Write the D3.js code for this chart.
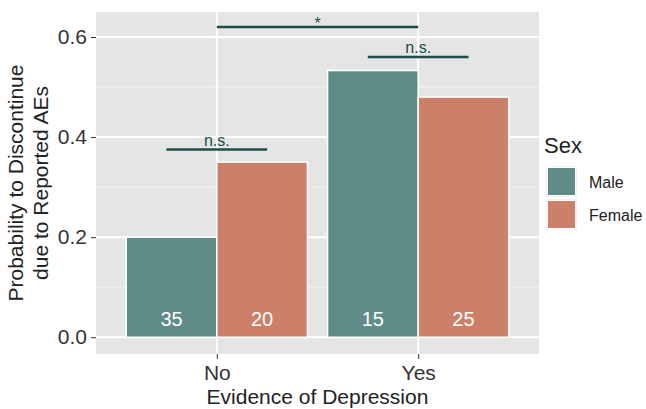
<!DOCTYPE html>
<html><head><meta charset="utf-8">
<script src="https://cdn.jsdelivr.net/npm/d3@7"></script>
<style>body{margin:0;background:#fff;} text{font-family:"Liberation Sans",Arial,sans-serif;}</style>
</head><body>
<svg id="c" width="646" height="409"></svg>
<script>
const categories = ["No", "Yes"];
const sexes = ["Male", "Female"];
const maleValues = [0.20, 0.533];
const femaleValues = [0.35, 0.48];
const maleCounts = [35, 15];
const femaleCounts = [20, 25];
const yTicks = [0.0, 0.2, 0.4, 0.6];
const sigLabels = ["n.s.", "n.s.", "*"];
const sigHeights = [0.375, 0.56, 0.62];

const colors = {Male: "#5f8c87", Female: "#cc7f69"};
const svg = d3.select("#c");
const L = 96, R = 539, T = 12, B = 354;
const FONT = "Liberation Sans, Arial, sans-serif";

const y = d3.scaleLinear().domain([-0.0335, 0.65]).range([B, T]);
const xc = d3.scaleLinear().domain([0.4, 2.6]).range([L, R]);

svg.append("rect").attr("x", L).attr("y", T).attr("width", R - L).attr("height", B - T).attr("fill", "#e5e5e5");
[0.1, 0.3, 0.5].forEach(v => svg.append("line").attr("x1", L).attr("x2", R).attr("y1", y(v)).attr("y2", y(v)).attr("stroke", "#f2f2f2").attr("stroke-width", 1));
yTicks.forEach(v => svg.append("line").attr("x1", L).attr("x2", R).attr("y1", y(v)).attr("y2", y(v)).attr("stroke", "#fff").attr("stroke-width", 2));
categories.forEach((c, i) => svg.append("line").attr("x1", xc(i + 1)).attr("x2", xc(i + 1)).attr("y1", T).attr("y2", B).attr("stroke", "#fff").attr("stroke-width", 2));

const rows = [];
categories.forEach((c, i) => {
  rows.push({cat: c, sex: "Male", v: maleValues[i], n: maleCounts[i]});
  rows.push({cat: c, sex: "Female", v: femaleValues[i], n: femaleCounts[i]});
});
const bw = xc(1.45) - xc(1);
const xpos = d => xc(categories.indexOf(d.cat) + 1) + (d.sex === "Male" ? -bw : 0);
svg.selectAll("rect.bar").data(rows).enter().append("rect").attr("class", "bar")
  .attr("x", xpos).attr("y", d => y(d.v)).attr("width", bw).attr("height", d => y(0) - y(d.v))
  .attr("fill", d => colors[d.sex]).attr("stroke", "#fff").attr("stroke-width", 1.5);
svg.selectAll("text.n").data(rows).enter().append("text")
  .attr("x", d => xpos(d) + bw / 2).attr("y", y(0) - 11).attr("text-anchor", "middle")
  .attr("fill", "#fff").attr("font-size", 20).text(d => d.n);

const sigRanges = [[0.75, 1.25], [1.75, 2.25], [1, 2]];
sigRanges.forEach((r, i) => {
  svg.append("line").attr("x1", xc(r[0])).attr("x2", xc(r[1])).attr("y1", y(sigHeights[i])).attr("y2", y(sigHeights[i]))
    .attr("stroke", "#1f4d48").attr("stroke-width", 2.5);
  const isStar = sigLabels[i] === "*";
  svg.append("text").attr("x", (xc(r[0]) + xc(r[1])) / 2).attr("y", y(sigHeights[i]) + (isStar ? 2 : -4)).attr("text-anchor", "middle")
    .attr("fill", "#1f4d48").attr("font-size", 16).text(sigLabels[i]);
});

const yAxis = d3.axisLeft(y).tickValues(yTicks).tickFormat(d3.format(".1f")).tickSize(5).tickPadding(4);
const ga = svg.append("g").attr("transform", `translate(${L},0)`).call(yAxis);
ga.select(".domain").remove();
ga.selectAll("line").attr("stroke", "#333");
ga.selectAll("text").attr("font-size", 21).attr("fill", "#333").attr("font-family", FONT);
const xAxis = d3.axisBottom(xc).tickValues([1, 2]).tickFormat(d => categories[d - 1]).tickSize(5).tickPadding(6);
const gx = svg.append("g").attr("transform", `translate(0,${B})`).call(xAxis);
gx.select(".domain").remove();
gx.selectAll("line").attr("stroke", "#333");
gx.selectAll("text").attr("font-size", 21).attr("fill", "#333").attr("font-family", FONT);

svg.append("text").attr("x", (L + R) / 2).attr("y", 404).attr("text-anchor", "middle").attr("font-size", 21).attr("fill", "#222").text("Evidence of Depression");
const yt = svg.append("text").attr("transform", `translate(23,${(T + B) / 2}) rotate(-90)`).attr("text-anchor", "middle").attr("font-size", 21).attr("fill", "#222");
yt.append("tspan").attr("x", 0).attr("dy", 0).text("Probability to Discontinue");
yt.append("tspan").attr("x", 0).attr("dy", 25).text("due to Reported AEs");

svg.append("text").attr("x", 544).attr("y", 153).attr("font-size", 22).attr("fill", "#222").text("Sex");
sexes.forEach((s, i) => {
  const ky = 166 + i * 33;
  svg.append("rect").attr("x", 546).attr("y", ky).attr("width", 31).attr("height", 31).attr("fill", "#f2f2f2");
  svg.append("rect").attr("x", 547.5).attr("y", ky + 1.5).attr("width", 28).attr("height", 28).attr("fill", colors[s]).attr("stroke", "#fff").attr("stroke-width", 1);
  svg.append("text").attr("x", 589).attr("y", ky + 21.5).attr("font-size", 16).attr("fill", "#222").text(s);
});
</script>
</body></html>
